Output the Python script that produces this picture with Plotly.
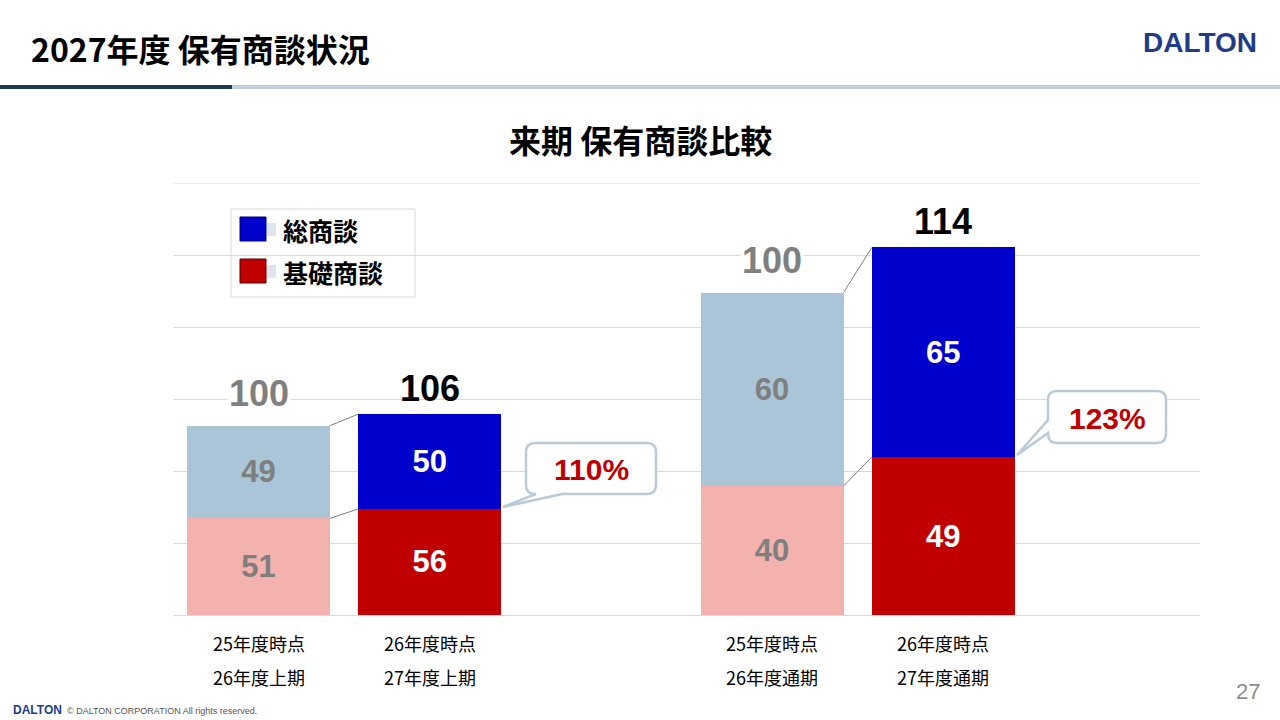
import plotly.graph_objects as go

# data
x_pos = [0, 1, 3, 4]
line1 = ['25年度時点', '26年度時点', '25年度時点', '26年度時点']
line2 = ['26年度上期', '27年度上期', '26年度通期', '27年度通期']
base_left = [51, 56]      # 基礎商談
total_left = [49, 50]     # 総商談 (upper part)
base_right = [40, 49]
total_right = [60, 65]
sum_left = [100, 106]
sum_right = [100, 114]
growth = ['110%', '123%']
series_names = ['総商談', '基礎商談']

# colours
LIGHT_RED, DARK_RED = '#F4B2AE', '#C00000'
LIGHT_BLUE, DARK_BLUE = '#A9C5D7', '#0000CC'
GRAY = '#7F7F7F'
GRID = '#D9D9D9'
BAR_W = 0.835

JP = 'Noto Sans CJK JP'
NUM = 'Liberation Sans'

# plot area in pixels (used for the decorations only)
L, R, T, B = 173, 1200, 183, 615
def X(px):
    return (px - L) / (R - L)
def Y(py):
    return (B - py) / (B - T)

fig = go.Figure()

def add_pair(xs, base, top, yaxis):
    fig.add_trace(go.Bar(
        x=xs, y=base, yaxis=yaxis, width=BAR_W, name=series_names[1], showlegend=False,
        marker=dict(color=[LIGHT_RED, DARK_RED], line=dict(width=0)),
        text=base, textposition='inside', insidetextanchor='middle',
        textfont=dict(family=NUM, size=31, weight='bold', color=[GRAY, 'white']),
        hoverinfo='skip'))
    fig.add_trace(go.Bar(
        x=xs, y=top, yaxis=yaxis, width=BAR_W, name=series_names[0], showlegend=False,
        marker=dict(color=[LIGHT_BLUE, DARK_BLUE], line=dict(width=0)),
        text=top, textposition='inside', insidetextanchor='middle',
        textfont=dict(family=NUM, size=31, weight='bold', color=[GRAY, 'white']),
        hoverinfo='skip'))

add_pair(x_pos[:2], base_left, total_left, 'y')
add_pair(x_pos[2:], base_right, total_right, 'y2')

# top grid line (plotly drops the one on the plot edge)
shapes = [dict(type='line', xref='paper', yref='y', x0=0, x1=1, y0=228, y1=228,
               line=dict(color=GRID, width=1), layer='below')]
annotations = []

def note(px, py, text, font, xanchor='center', **kw):
    annotations.append(dict(x=X(px), y=Y(py), xref='paper', yref='paper', showarrow=False,
                            xanchor=xanchor, yanchor='middle', text=text, font=font, **kw))

# totals above bars and connector lines
for xs, base, sums, yref in [(x_pos[:2], base_left, sum_left, 'y'),
                              (x_pos[2:], base_right, sum_right, 'y2')]:
    for i, (xv, s) in enumerate(zip(xs, sums)):
        annotations.append(dict(
            x=xv, y=s, xref='x', yref=yref, text=f'<b>{s}</b>', showarrow=False,
            xanchor='center', yanchor='bottom', yshift=10 if i == 0 else 3,
            bgcolor='white' if i == 0 else None,
            font=dict(family=NUM, size=36, color=GRAY if i == 0 else 'black')))
    for a, b in [(sums[0], sums[1]), (base[0], base[1])]:
        shapes.append(dict(type='line', xref='x', yref=yref,
                           x0=xs[0] + BAR_W / 2, x1=xs[1] - BAR_W / 2, y0=a, y1=b,
                           line=dict(color=GRAY, width=1)))

# callouts
def P(px, py):
    return f'{X(px):.5f},{Y(py):.5f}'

def callout_bottom(x0, y0, x1, y1, r, tb1, tb2, tip):
    return ('M' + P(x0 + r, y0) + ' L' + P(x1 - r, y0) + ' Q' + P(x1, y0) + ' ' + P(x1, y0 + r) +
            ' L' + P(x1, y1 - r) + ' Q' + P(x1, y1) + ' ' + P(x1 - r, y1) +
            ' L' + P(tb2, y1) + ' L' + P(*tip) + ' L' + P(tb1, y1) +
            ' L' + P(x0 + r, y1) + ' Q' + P(x0, y1) + ' ' + P(x0, y1 - r) +
            ' L' + P(x0, y0 + r) + ' Q' + P(x0, y0) + ' ' + P(x0 + r, y0) + ' Z')

def callout_left(x0, y0, x1, y1, r, ta, tb, tip):
    return ('M' + P(x0 + r, y0) + ' L' + P(x1 - r, y0) + ' Q' + P(x1, y0) + ' ' + P(x1, y0 + r) +
            ' L' + P(x1, y1 - r) + ' Q' + P(x1, y1) + ' ' + P(x1 - r, y1) +
            ' L' + P(x0 + r, y1) + ' Q' + P(x0, y1) + ' ' + P(x0, y1 - r) +
            ' L' + P(x0, tb) + ' L' + P(*tip) + ' L' + P(x0, ta) +
            ' L' + P(x0, y0 + r) + ' Q' + P(x0, y0) + ' ' + P(x0 + r, y0) + ' Z')

CALL_LINE = '#B9CAD8'
shapes.append(dict(type='path', xref='paper', yref='paper',
                   path=callout_bottom(526, 443, 656, 494, 9, 536, 562, (503, 507)),
                   fillcolor='white', line=dict(color=CALL_LINE, width=2.5)))
shapes.append(dict(type='path', xref='paper', yref='paper',
                   path=callout_left(1048, 391, 1166, 443, 9, 420, 433, (1017, 455)),
                   fillcolor='white', line=dict(color=CALL_LINE, width=2.5)))
note(591, 469, f'<b>{growth[0]}</b>', dict(family=NUM, size=30, color=DARK_RED))
note(1107, 418, f'<b>{growth[1]}</b>', dict(family=NUM, size=30, color=DARK_RED))

# legend box
shapes.append(dict(type='rect', xref='paper', yref='paper', x0=X(231), x1=X(415), y0=Y(209), y1=Y(297),
                   line=dict(color=GRID, width=1), fillcolor='rgba(0,0,0,0)'))
for name, col, edge, cy in [(series_names[0], DARK_BLUE, '#00007A', 229),
                            (series_names[1], DARK_RED, '#5A0000', 271)]:
    shapes.append(dict(type='rect', xref='paper', yref='paper', x0=X(240), x1=X(266),
                       y0=Y(cy - 12), y1=Y(cy + 12), fillcolor=col, line=dict(color=edge, width=1)))
    shapes.append(dict(type='rect', xref='paper', yref='paper', x0=X(267), x1=X(276),
                       y0=Y(cy - 6), y1=Y(cy + 7), fillcolor='#DFE5EC', line=dict(width=0)))
    note(281, cy + 1, f'<b>{name}</b>', dict(family=JP, size=25, color='black'), xanchor='left')

# category labels (two lines)
for xv, a, b in zip(x_pos, line1, line2):
    for txt, py in [(a, 643), (b, 677)]:
        annotations.append(dict(x=xv, y=Y(py), xref='x', yref='paper', showarrow=False,
                                xanchor='center', yanchor='middle',
                                text=txt, font=dict(family=JP, size=18, color='black')))

# titles, header and footer
note(640, 139, '<b>来期 保有商談比較</b>', dict(family=JP, size=32, color='black'))
note(29, 48, '<b>2027年度 保有商談状況</b>', dict(family=JP, size=32, color='black'), xanchor='left')
note(1259, 42, '<b>DALTON</b>', dict(family=NUM, size=28, color='#1F3C88'), xanchor='right')
note(11, 710, '<b>DALTON</b>', dict(family=NUM, size=12, color='#1F3C88'), xanchor='left')
note(65, 711, '© DALTON CORPORATION All rights reserved.',
     dict(family=NUM, size=9, color='#555555'), xanchor='left')
note(1262, 691, '27', dict(family=NUM, size=22, color='#8C8C8C'), xanchor='right')

shapes += [
    dict(type='line', xref='paper', yref='paper', x0=X(232), x1=X(1280), y0=Y(87), y1=Y(87),
         line=dict(color='#C3CFDA', width=4)),
    dict(type='line', xref='paper', yref='paper', x0=X(0), x1=X(232), y0=Y(87), y1=Y(87),
         line=dict(color='#17394F', width=4)),
]

fig.update_layout(
    width=1280, height=720, autosize=False,
    margin=dict(l=L, r=1280 - R, t=T, b=720 - B),
    paper_bgcolor='white', plot_bgcolor='white',
    barmode='stack', showlegend=False,
    xaxis=dict(range=[-0.5, 5.5], showticklabels=False, showgrid=False, zeroline=False, fixedrange=True),
    yaxis=dict(range=[0, 228], dtick=38, showticklabels=False, gridcolor=GRID, gridwidth=1,
               zeroline=True, zerolinecolor=GRID, zerolinewidth=1, fixedrange=True),
    yaxis2=dict(range=[0, 134], overlaying='y', visible=False, fixedrange=True),
    shapes=shapes, annotations=annotations,
)

fig.write_html('out.html', config={'displayModeBar': False},
               post_script="document.body.style.margin='0';")
